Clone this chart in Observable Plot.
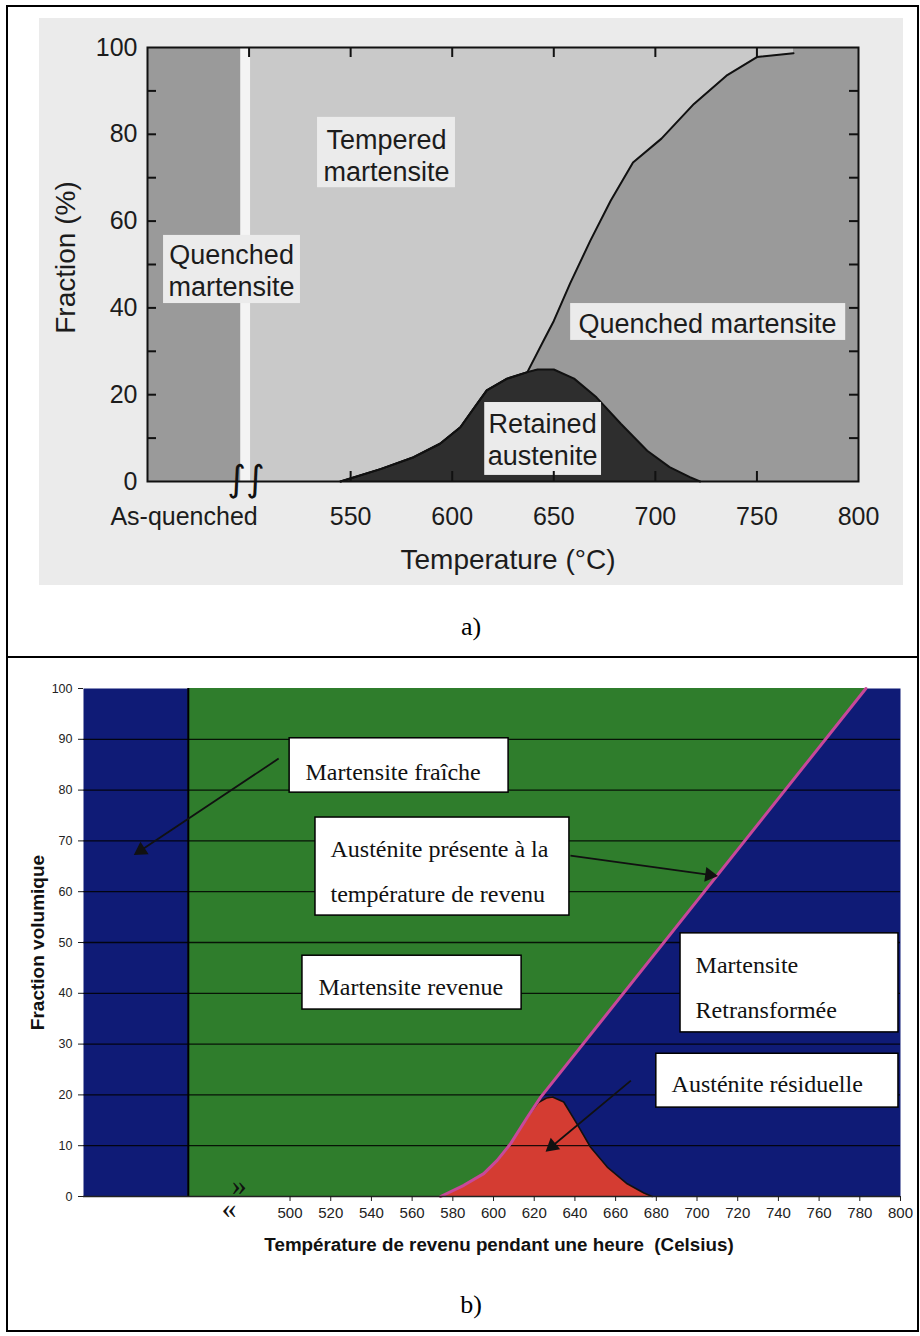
<!DOCTYPE html>
<html><head><meta charset="utf-8">
<script src="https://cdn.jsdelivr.net/npm/d3@7"></script>
<script src="https://cdn.jsdelivr.net/npm/@observablehq/plot@0.6"></script>
<style>
body{margin:0;background:#fff;}
#page{position:relative;width:920px;height:1336px;background:#fff;overflow:hidden;}
.cap{position:absolute;width:100px;text-align:center;font-family:"Liberation Serif","Times New Roman",serif;font-size:26px;line-height:26px;color:#000;}
</style></head><body>
<div id="page">
 <div id="pa" style="position:absolute;left:39px;top:18px"></div>
 <div id="pb" style="position:absolute;left:0px;top:670px"></div>
 <div style="position:absolute;left:6px;top:5px;width:913px;height:1327px;border:2px solid #000;box-sizing:border-box"></div>
 <div style="position:absolute;left:6px;top:656px;width:913px;height:2px;background:#000"></div>
 <div class="cap" style="left:421px;top:614px">a)</div>
 <div class="cap" style="left:421px;top:1292px">b)</div>
</div>
<script>
// ---------- Panel a data ----------
const aTempMin = 450, aTempMax = 800;
const aQuenchedEnd = 496, aTemperedStart = 501;
const aBreakPos = 498.5;
const aAsQuenchedPos = 468;
const aXTicks = [550, 600, 650, 700, 750, 800];
const aYTicks = [0, 20, 40, 60, 80, 100];
// austenite formed at temperature (upper boundary)
const aTempU = [545, 565, 581, 594, 604, 611, 617, 627, 637, 645, 650, 658, 668, 678, 689, 703, 719, 735, 750, 768];
const aAustU = [0, 2.9, 5.6, 8.7, 12.5, 17.1, 21, 23.7, 25.2, 32.5, 37, 45.6, 55.5, 64.7, 73.5, 79, 87, 93.5, 97.8, 98.7];
// retained austenite
const aTempR = [545, 565, 581, 594, 604, 611, 617, 627, 637, 642, 650, 660, 671, 683, 696, 707, 717, 722];
const aRet   = [0, 2.9, 5.6, 8.7, 12.5, 17.1, 21, 23.7, 25.2, 25.8, 25.8, 23.7, 19.4, 13.3, 7.1, 3.3, 1, 0];
const aLabels = [
  {text: "Quenched\nmartensite", x: 491.4, y: 48.8, x1: 457.9, x2: 525.3, y1: 41, y2: 56.7},
  {text: "Tempered\nmartensite", x: 567.7, y: 75.3, x1: 533.7, x2: 601.6, y1: 67.7, y2: 83.9},
  {text: "Quenched martensite", x: 725.7, y: 36.6, x1: 658.3, x2: 793.7, y1: 32.5, y2: 41},
  {text: "Retained\naustenite", x: 644.5, y: 9.9, x1: 616, x2: 673.5, y1: 1.4, y2: 18.2}
];

// ---------- Panel b data ----------
const bTempMin = 398.5, bTempMax = 800;
const bQuenchedEnd = 450;
const bBreakPos = 474;
const bXTicks = d3.range(500, 801, 20);
const bYTicks = d3.range(0, 101, 10);
const bGrid = d3.range(10, 100, 10);
const bTempU = [574, 585.4, 595.2, 601.8, 608.4, 616.6, 623.1, 783];
const bAustU = [0, 2.2, 4.5, 7.1, 10.4, 15.6, 19.5, 100];
const bTempR = [574, 585.4, 595.2, 601.8, 608.4, 616.6, 622, 626, 629, 634.5, 641, 647.7, 655.9, 665.7, 673.9, 678];
const bRet   = [0, 2.2, 4.5, 7.1, 10.4, 15.6, 18.5, 19.4, 19.6, 18.6, 14.3, 9.7, 5.8, 2.5, 0.7, 0];
const bBoxes = [
  {x1: 499.8, x2: 607.4, y1: 79.5, y2: 90.2},
  {x1: 512.5, x2: 637.3, y1: 55.3, y2: 74.6},
  {x1: 506.1, x2: 613.8, y1: 36.8, y2: 47.4},
  {x1: 691.9, x2: 799, y1: 32.3, y2: 51.8},
  {x1: 680, x2: 799, y1: 17.5, y2: 28.1}
];
const bTexts = [
  {text: "Martensite fraîche", x: 507.6, y: 84.8},
  {text: "Austénite présente à la\ntempérature de revenu", x: 519.9, y: 65.3},
  {text: "Martensite revenue", x: 514, y: 42.5},
  {text: "Martensite\nRetransformée", x: 699.3, y: 42.4},
  {text: "Austénite résiduelle", x: 687.5, y: 23.4}
];
const bArrows = [
  {x1: 494.4, y1: 86.2, x2: 425.1, y2: 67.7},
  {x1: 637.8, y1: 67.1, x2: 708.1, y2: 63.2},
  {x1: 667.5, y1: 22.8, x2: 627.3, y2: 9.4}
];

// ---------- colours ----------
const cBgA = "#ebebeb", cTempered = "#c9c9c9", cQuenched = "#9a9a9a", cRetained = "#2e2e2e", cLabelA = "#ebebeb", cStrip = "#f4f4f4";
const cBlue = "#0f1b76", cGreen = "#2f7d2c", cRed = "#d43c32", cMagenta = "#c8489a";

// ---------- Panel a ----------
const aUpper = aTempU.map((t, i) => ({T: t, f: aAustU[i]}));
const aRetD = aTempR.map((t, i) => ({T: t, f: aRet[i]}));
const aLight = [{T: aTemperedStart, f: 0}, ...aUpper];
const WA = 864, HA = 567, mlA = 108, mrA = 45, mtA = 29, mbA = 104;
const iwA = WA - mlA - mrA, ihA = HA - mtA - mbA;
const sans = "'Liberation Sans', Arial, Helvetica, sans-serif";

const plotA = Plot.plot({
  width: WA, height: HA,
  marginLeft: mlA, marginRight: mrA, marginTop: mtA, marginBottom: mbA,
  x: {domain: [aTempMin, aTempMax]},
  y: {domain: [0, 100]},
  style: {background: cBgA, fontFamily: sans, fontSize: "25px", color: "#1c1c1c"},
  marks: [
    Plot.rect([0], {x1: aTempMin, x2: aQuenchedEnd, y1: 0, y2: 100, fill: cQuenched}),
    Plot.rect([0], {x1: aQuenchedEnd, x2: aTemperedStart, y1: 0, y2: 100, fill: cStrip}),
    Plot.rect([0], {x1: aTemperedStart, x2: aTempMax, y1: 0, y2: 100, fill: cQuenched}),
    Plot.areaY(aLight, {x: "T", y1: "f", y2: 100, fill: cTempered}),
    Plot.areaY(aRetD, {x: "T", y: "f", fill: cRetained}),
    Plot.line(aUpper, {x: "T", y: "f", stroke: "#111", strokeWidth: 2}),
    Plot.line(aRetD, {x: "T", y: "f", stroke: "#111", strokeWidth: 2}),
    Plot.rect(aLabels, {x1: "x1", x2: "x2", y1: "y1", y2: "y2", fill: cLabelA}),
    Plot.text(aLabels, {x: "x", y: "y", text: "text", fontSize: 27, lineHeight: 1.19, fill: "#1c1c1c"}),
    Plot.frame({stroke: "#111", strokeWidth: 2}),
    Plot.tickY(d3.range(10, 100, 10), {y: d => d, insetRight: iwA - 9, stroke: "#111", strokeWidth: 2}),
    Plot.tickY(d3.range(10, 100, 10), {y: d => d, insetLeft: iwA - 9, stroke: "#111", strokeWidth: 2}),
    Plot.tickX([500, 550, 600, 650, 700, 750], {x: d => d, insetBottom: ihA - 10, stroke: "#111", strokeWidth: 2}),
    Plot.tickX([550, 600, 650, 700, 750], {x: d => d, insetTop: ihA - 10, stroke: "#111", strokeWidth: 2}),
    Plot.text(["∫∫"], {x: aBreakPos, y: 0, dy: -2, fontSize: 36, fill: "#111", fontFamily: "DejaVu Sans"}),
    Plot.axisY({ticks: aYTicks, tickSize: 0, tickPadding: 10, label: null}),
    Plot.axisX({ticks: [aAsQuenchedPos, ...aXTicks], tickFormat: d => d === aAsQuenchedPos ? "As-quenched" : String(d), tickSize: 0, tickPadding: 26, label: null}),
    Plot.text(["Temperature (°C)"], {frameAnchor: "bottom", lineAnchor: "middle", dy: 79, dx: 5, fontSize: 28}),
    Plot.text(["Fraction (%)"], {frameAnchor: "left", textAnchor: "middle", lineAnchor: "middle", rotate: -90, dx: -81, dy: -7, fontSize: 28})
  ]
});
document.getElementById("pa").appendChild(plotA);

// ---------- Panel b ----------
const WB = 920, HB = 600, mlB = 83, mrB = 20, mtB = 18, mbB = 74;
const bUpper = bTempU.map((t, i) => ({T: t, f: bAustU[i]}));
const bRetD = bTempR.map((t, i) => ({T: t, f: bRet[i]}));
const bGreen = [{T: bQuenchedEnd, f: 0}, ...bUpper];
const bRetRight = bRetD.filter(d => d.T >= 616.6);
const narrow = "'Liberation Sans Narrow', 'Arial Narrow', 'Liberation Sans', Arial, sans-serif";
const serif = "'Liberation Serif', 'Times New Roman', serif";

// filled arrowheads: orientation from the same scales the plot uses
const sx = Plot.scale({x: {domain: [bTempMin, bTempMax], range: [mlB, WB - mrB]}});
const sy = Plot.scale({y: {domain: [0, 100], range: [HB - mbB, mtB]}});
const bHeads = bArrows.map(a => {
  const X1 = sx.apply(a.x1), Y1 = sy.apply(a.y1), X2 = sx.apply(a.x2), Y2 = sy.apply(a.y2);
  const L = Math.hypot(X2 - X1, Y2 - Y1), ux = (X2 - X1) / L, uy = (Y2 - Y1) / L;
  return {x: sx.invert(X2 - ux * 4), y: sy.invert(Y2 - uy * 4), r: Math.atan2(ux, -uy) * 180 / Math.PI};
});

const plotB = Plot.plot({
  width: WB, height: HB,
  marginLeft: mlB, marginRight: mrB, marginTop: mtB, marginBottom: mbB,
  x: {domain: [bTempMin, bTempMax]},
  y: {domain: [0, 100]},
  style: {background: "transparent", fontFamily: narrow, fontSize: "12px", color: "#1c1c1c"},
  marks: [
    Plot.frame({fill: cBlue}),
    Plot.areaY(bGreen, {x: "T", y1: "f", y2: 100, fill: cGreen}),
    Plot.areaY(bRetD, {x: "T", y: "f", fill: cRed}),
    Plot.ruleY(bGrid, {stroke: "#000", strokeWidth: 1.3, strokeOpacity: 0.85}),
    Plot.ruleX([bQuenchedEnd], {y1: 0, y2: 100, stroke: "#000", strokeWidth: 2}),
    Plot.line(bRetRight, {x: "T", y: "f", stroke: "#111", strokeWidth: 1.6}),
    Plot.line(bUpper, {x: "T", y: "f", stroke: cMagenta, strokeWidth: 3}),
    Plot.ruleY([0], {stroke: "#222", strokeWidth: 1.5}),
    Plot.axisY({ticks: bYTicks, tickSize: 5, tickFormat: () => "", label: null}),
    Plot.axisX({ticks: bXTicks, tickSize: 5, tickFormat: () => "", label: null}),
    Plot.text(bYTicks, {y: d => d, frameAnchor: "left", textAnchor: "end", lineAnchor: "middle", dx: -11, fontSize: 12.5, fill: "#222"}),
    Plot.text(bXTicks, {x: d => d, frameAnchor: "bottom", lineAnchor: "top", dy: 11, fontSize: 15, fill: "#222"}),
    Plot.rect(bBoxes, {x1: "x1", x2: "x2", y1: "y1", y2: "y2", fill: "#fff", stroke: "#000", strokeWidth: 1.5}),
    Plot.text(bTexts, {x: "x", y: "y", text: "text", textAnchor: "start", fontFamily: serif, fontSize: 24, lineHeight: 1.875, fill: "#111"}),
    Plot.link(bArrows, {x1: "x1", y1: "y1", x2: "x2", y2: "y2", stroke: "#111", strokeWidth: 1.8}),
    Plot.dot(bHeads, {x: "x", y: "y", rotate: "r", symbol: "triangle", r: 5.5, fill: "#111", stroke: "none"}),
    Plot.text(["»"], {x: bBreakPos + 1, y: 0, dy: -11, fontSize: 30, fontFamily: serif, fill: "#111"}),
    Plot.text(["«"], {x: bBreakPos - 4, y: 0, dy: 12, fontSize: 30, fontFamily: serif, fill: "#111"}),
    Plot.text(["Température de revenu pendant une heure  (Celsius)"], {frameAnchor: "bottom", lineAnchor: "middle", dy: 48, dx: 7, fontSize: 18.8, fontWeight: "bold", fill: "#111"}),
    Plot.text(["Fraction volumique"], {frameAnchor: "left", textAnchor: "middle", lineAnchor: "middle", rotate: -90, dx: -46, dy: 0, fontSize: 19, fontWeight: "bold", fill: "#111"})
  ]
});
document.getElementById("pb").appendChild(plotB);
</script>
</body></html>
